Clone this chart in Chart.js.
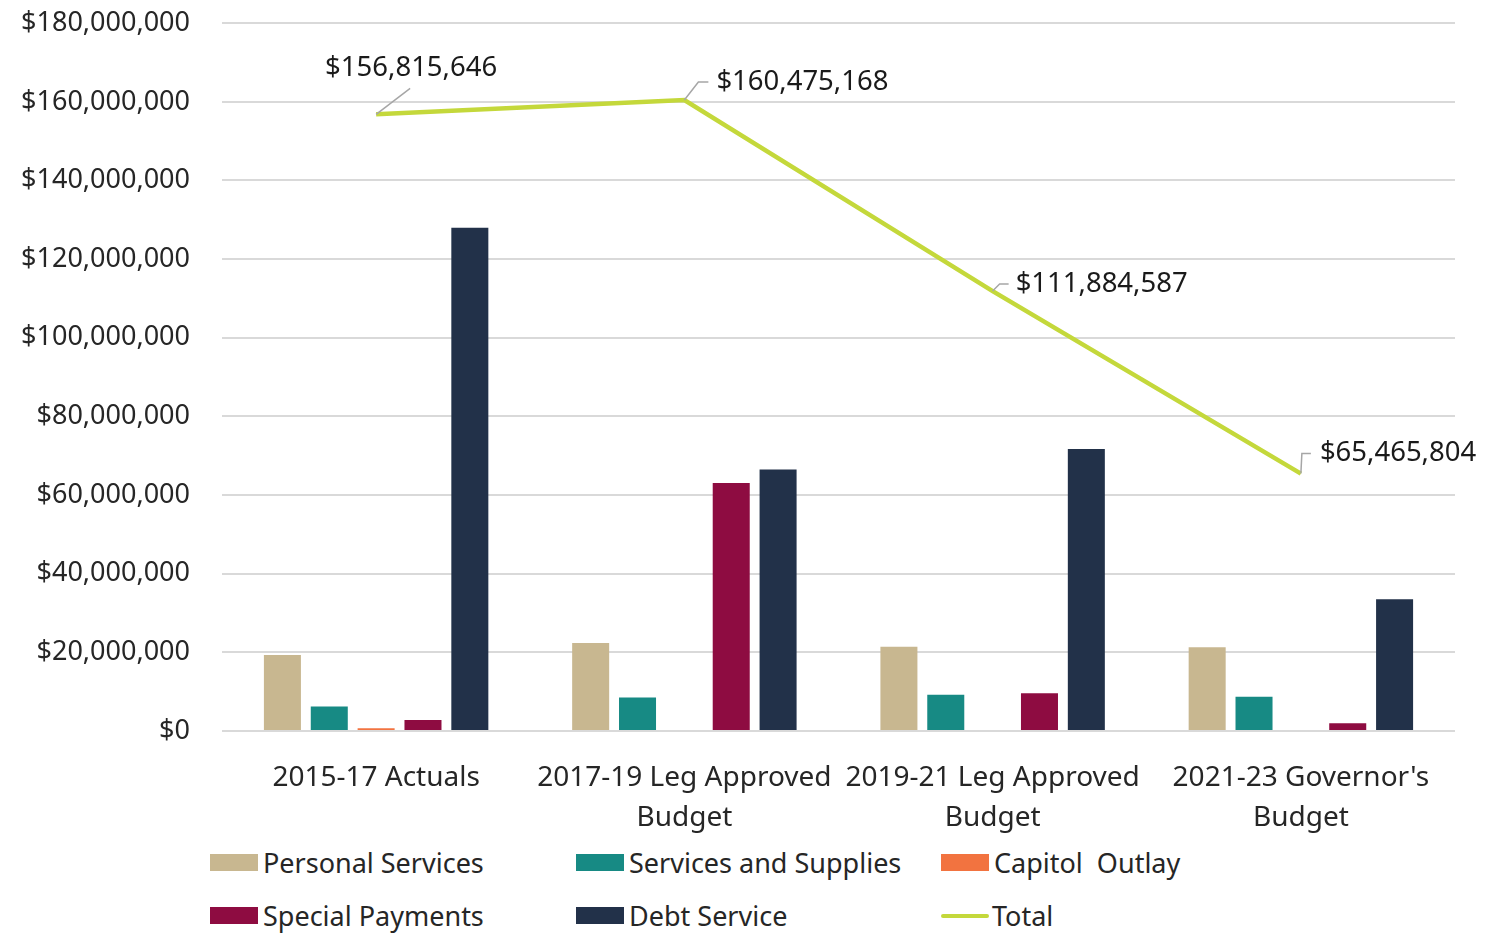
<!DOCTYPE html>
<html>
<head>
<meta charset="utf-8">
<script src="https://cdn.jsdelivr.net/npm/chart.js@4/dist/chart.umd.min.js"></script>
<style>
  html, body { margin: 0; padding: 0; background: #fff; overflow: hidden; }
  #wrap { position: relative; width: 1496px; height: 933px; font-family: "Noto Sans", sans-serif; overflow: hidden; }
  #chartBox { position: absolute; left: 0; top: -25px; width: 1496px; height: 865px; }
  .legend-item { position: absolute; display: flex; align-items: center; font-size: 27px; color: #262626; white-space: pre; }
  .swatch { width: 48px; height: 17px; margin-right: 5px; }
  .swatch.line { height: 4px; border-radius: 2px; margin-right: 3px; }
</style>
</head>
<body>
<div id="wrap">
  <div id="chartBox"><canvas id="budgetChart"></canvas></div>
  <div id="legend"></div>
</div>
<script>
// ---- data ----
const categories = [
  '2015-17 Actuals',
  ['2017-19 Leg Approved', 'Budget'],
  ['2019-21 Leg Approved', 'Budget'],
  ["2021-23 Governor's", 'Budget']
];
const personalServices = [19300000, 22400000, 21400000, 21300000];
const servicesSupplies = [6200000, 8500000, 9200000, 8700000];
const capitolOutlay = [700000, 0, 0, 0];
const specialPayments = [2800000, 63100000, 9600000, 2000000];
const debtService = [128000000, 66500000, 71700000, 33500000];
const totals = [156815646, 160475168, 111884587, 65465804];
const yTicks = [0, 20000000, 40000000, 60000000, 80000000, 100000000, 120000000, 140000000, 160000000, 180000000];

const FONT = '"Noto Sans", sans-serif';

function money(v) {
  return '$' + Math.round(v).toLocaleString('en-US');
}

// labels on the Total line, with small grey leader lines
const totalLabels = {
  id: 'totalLabels',
  afterDatasetsDraw(chart) {
    const meta = chart.getDatasetMeta(5);
    const ctx = chart.ctx;
    // leader paths relative to the point, text anchor at last leader point
    const leaders = [
      [[0, 0], [34, -26]],
      [[0, 0], [14, -18], [24, -18]],
      [[0, 0], [7, -7], [16, -7]],
      [[0, 0], [1, -20], [10, -20]]
    ];
    const textPos = [[35, -46, 'center'], [32, -18, 'left'], [23, -7, 'left'], [19, -20, 'left']];
    ctx.save();
    meta.data.forEach((pt, i) => {
      ctx.strokeStyle = '#a6a6a6';
      ctx.lineWidth = 1.5;
      ctx.beginPath();
      leaders[i].forEach((p, j) => {
        if (j === 0) ctx.moveTo(pt.x + p[0], pt.y + p[1]);
        else ctx.lineTo(pt.x + p[0], pt.y + p[1]);
      });
      ctx.stroke();
      ctx.fillStyle = '#1a1a1a';
      ctx.font = '27.5px ' + FONT;
      ctx.textAlign = textPos[i][2];
      ctx.textBaseline = 'middle';
      ctx.fillText(money(totals[i]), pt.x + textPos[i][0], pt.y + textPos[i][1]);
    });
    ctx.restore();
  }
};

const seriesDefs = [
  { label: 'Personal Services', data: personalServices, color: '#c8b790' },
  { label: 'Services and Supplies', data: servicesSupplies, color: '#178a84' },
  { label: 'Capitol  Outlay', data: capitolOutlay, color: '#f27340' },
  { label: 'Special Payments', data: specialPayments, color: '#8e0c41' },
  { label: 'Debt Service', data: debtService, color: '#223149' }
];

const datasets = seriesDefs.map(s => ({
  type: 'bar',
  label: s.label,
  data: s.data,
  backgroundColor: s.color,
  borderWidth: 0,
  categoryPercentage: 0.76,
  barPercentage: 0.79,
  order: 2
}));

datasets.push({
  type: 'line',
  label: 'Total',
  data: totals,
  borderColor: '#c4d83b',
  backgroundColor: '#c4d83b',
  borderWidth: 4.5,
  pointRadius: 0,
  tension: 0,
  order: 1
});

new Chart(document.getElementById('budgetChart'), {
  data: { labels: categories, datasets: datasets },
  options: {
    responsive: true,
    maintainAspectRatio: false,
    animation: false,
    layout: { padding: { top: 0, right: 41, bottom: 0, left: 0 } },
    plugins: {
      legend: { display: false },
      tooltip: { enabled: false }
    },
    scales: {
      x: {
        grid: { display: false },
        border: { display: false },
        ticks: {
          color: '#262626',
          font: { family: FONT, size: 28, lineHeight: 1.43 },
          padding: 19,
          maxRotation: 0,
          autoSkip: false
        },
        afterFit(scale) { scale.height = 109; }
      },
      y: {
        min: 0,
        max: 180000000,
        afterBuildTicks(scale) { scale.ticks = yTicks.map(v => ({ value: v })); },
        grid: { color: '#d9d9d9', lineWidth: 2, drawTicks: false },
        border: { display: false },
        ticks: {
          color: '#262626',
          font: { family: FONT, size: 27 },
          padding: 32,
          callback: v => money(v)
        },
        afterFit(scale) { scale.width = 222; }
      }
    }
  },
  plugins: [totalLabels]
});

// legend laid out as in the reference (3 columns x 2 rows)
const legendCols = [210, 576, 941];
const legendRows = [863, 916];
const legendEl = document.getElementById('legend');
const legendEntries = seriesDefs.map(s => ({ label: s.label, color: s.color, line: false }))
  .concat([{ label: 'Total', color: '#c4d83b', line: true }]);
legendEntries.forEach((e, i) => {
  const item = document.createElement('div');
  item.className = 'legend-item';
  item.style.left = legendCols[i % 3] + 'px';
  item.style.top = (legendRows[Math.floor(i / 3)] - 19) + 'px';
  const sw = document.createElement('span');
  sw.className = 'swatch' + (e.line ? ' line' : '');
  sw.style.background = e.color;
  item.appendChild(sw);
  item.appendChild(document.createTextNode(e.label));
  legendEl.appendChild(item);
});
</script>
</body>
</html>
